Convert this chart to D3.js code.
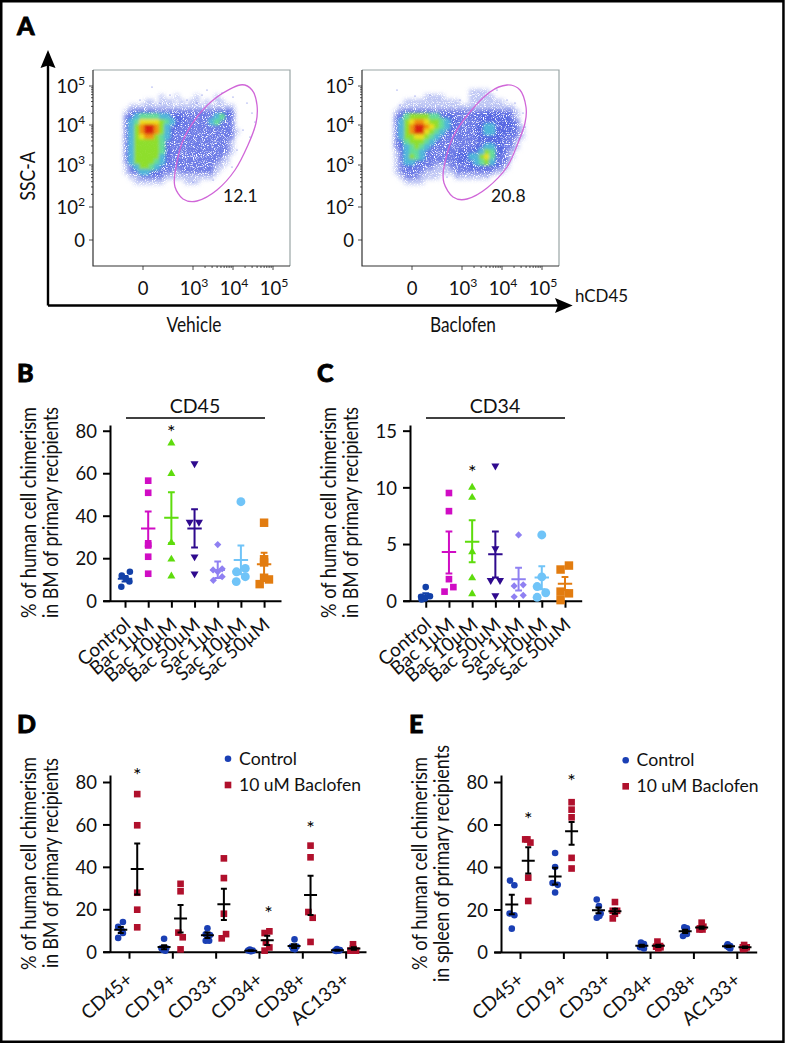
<!DOCTYPE html>
<html><head><meta charset="utf-8">
<script src="https://cdn.jsdelivr.net/npm/d3@7"></script>
<style>html,body{margin:0;padding:0;background:#fff}svg{display:block}text{font-family:Lato,"Open Sans",sans-serif;fill:#111}</style>
</head><body><svg id="c" width="785" height="1044"></svg>
<script>
// ---------- Panel A data ----------
const flowTickLabels=[["0",""],["10","3"],["10","4"],["10","5"]];
const flowXChannels=[50,100,140,180];
const flowYTickLabels=[["0",""],["10","2"],["10","3"],["10","4"],["10","5"]];
const flowYChannels=[26,59,101,141,180];
const flowPlots=["Vehicle","Baclofen"];
const gateVehicle=[[147,181],[159,176],[164,161],[163,143],[155,121],[142,96],[124,76],[104,65],[90,67],[82,79],[82,93],[89,123],[104,149],[124,169]];
const gateBaclofen=[[145,181],[158,176],[164,159],[163,143],[156,123],[145,99],[125,78],[105,67],[91,69],[82,83],[82,99],[91,129],[108,154],[128,174]];
const gatePercent=["12.1","20.8"];
// density level per 5px cell, 0 = no events, 9 = densest
const densityVehicle=[
"00000001001000100010000",
"00001101110101101011000",
"01111111111111111111110",
"12333322222222222233330",
"23455554433322222245320",
"24577776543322222453220",
"24689986433222222222220",
"24689986432222222222221",
"24678865432222222222220",
"24666665322222222222210",
"24666665322222222222210",
"24666665322222222222210",
"24666664322222222222100",
"24666654322222222221100",
"13466543222222222211000",
"12344332221222222210000",
"01122222111111111100000",
"00111111000011100000000"];
const densityBaclofen=[
"00000000000000011110000000",
"00000011110000011111000000",
"00111111111110011111110000",
"01111111111111111111111100",
"12333333222222222233322210",
"23566665533322223333333210",
"24678876654332222333333320",
"24689987654322223344333321",
"24689976543322223344333321",
"24667765432222223333332221",
"23566654322222222333332210",
"23456543222222223344332210",
"13455432222223333465332100",
"13465432222233344675322100",
"12443322222223334564322000",
"12332222111222233333321000",
"12222211111122222222110000",
"01222111100011111110000000",
"00111100000000000000000000"];
const outliersVehicle=[[59,179],[77,171],[114,176],[129,173],[109,171],[154,163],[159,153],[162,144],[150,136],[157,129],[144,116],[139,99],[120,86],[100,84],[47,166],[67,163],[94,166],[140,169],[104,163]];
const outliersBaclofen=[[35,176],[68,171],[53,170],[145,166],[153,163],[161,153],[163,139],[151,116],[143,106],[125,89],[95,89],[85,89],[38,161],[98,166],[135,176]];
const densityColors=["#ffffff","#bcc4f4","#6a78e6","#5064e2","#4fb6da","#62dc9a","#8ede2c","#ecdf1c","#f2920e","#d9200e"];

// ---------- Panels B and C data ----------
const treatments=["Control","Bac 1µM","Bac 10µM","Bac 50µM","Sac 1µM","Sac 10µM","Sac 50µM"];
const treatmentColors=["#1240a8","#d00cc4","#5edc0c","#2f0a8e","#8f80f2","#70c4f8","#e27c10"];
const treatmentShapes=["circle","square","triangle","triangleDown","diamond","bigCircle","bigSquare"];
const cd45Values=[[11.8,13.6,10.5,9,6.6],[56.5,50.8,27,26,20.7,12.7],[74.2,59.8,27.3,19.5,11.5],[64.5,37,37,20.7,12.7],[26.4,14.5,15,13.6,11.3,9.6],[46.6,15.2,13.6,11.3,9],[36.7,19.5,18,10,10.8,7.8]];
const cd45Jitter=[[-.14,.21,.03,.19,-.16],[0,0,0,0,0,0],[0,0,0,0,0],[0,-.21,.19,0,0],[0,-.2,.19,0,.19,-.19],[0,.19,-.19,.19,-.2],[0,0,0,.21,0,-.19]];
const cd45Mean=[10.3,34,39,34,14.4,19.2,17.2];
const cd45Low=[9,25.5,27,25,10.7,12.5,11.4];
const cd45High=[11.6,42,51.1,43,18.4,26,22.6];
const cd34Values=[[1.2,.4,.35,.2,.1],[9.5,7.9,1.9,1.2,.8],[10,9.1,4.3,2,.6],[11.9,4.6,1.8,1.8,.45],[5.8,1.3,1.4,.35,.47],[5.8,2.1,1.25,.7,.3],[3.1,2.75,.65,.8,.05]];
const cd34Jitter=[[0,.18,-.2,-.03,-.18],[0,0,0,.19,-.19],[0,0,0,0,0],[0,0,-.2,.2,0],[0,-.19,.2,-.19,.2],[0,0,-.2,.17,-.2],[.17,-.19,.17,-.19,-.19]];
const cd34Mean=[.45,4.3,5.2,4.1,1.9,2.05,1.5];
const cd34Low=[.25,2.4,3.4,2.05,.9,1,.95];
const cd34High=[.65,6.1,7.1,6.1,2.9,3.05,2.1];

// ---------- Panels D and E data ----------
const markers=["CD45+","CD19+","CD33+","CD34+","CD38+","AC133+"];
const groupNames=["Control","10 uM Baclofen"];
const groupColors=["#1a3fb4","#b0102c"];
const bmControl=[[14,11.7,10,6.5,8.8],[6.1,1.6,1.6,.8,.5],[11,8.2,7.9,5.2,5.2],[1,.6,.5,.3,.2],[5.8,2.4,2.4,1.4,1.1],[1.3,.8,.6,.5,.3]];
const bmControlJitter=[[.05,-.06,.02,-.06,.05],[0,-.06,.05,-.02,.03],[0,-.04,.06,-.04,.04],[-.02,-.06,.05,-.01,.01],[.01,-.05,.06,-.02,.02],[-.01,.06,-.05,.03,-.03]];
const bmControlMean=[10.3,2.2,7.7,.5,2.7,.7];
const bmControlLow=[8.8,1.2,6.4,.3,1.8,.5];
const bmControlHigh=[11.7,3,9,.7,3.5,.9];
const bmBaclofen=[[74.3,59.6,27.8,19.8,11.5],[32,28.5,9,6.8,1.1],[44,34.7,17.9,8.3,6.3],[9.6,8.8,4.4,2,.5],[50,44.5,18.7,16,4.6],[3.5,1.6,.5,.5,.8]];
const bmBaclofenJitter=[[0,0,0,0,0],[0,0,-.05,.05,0],[0,0,0,.05,-.05],[.05,-.06,-.03,.05,-.06],[0,0,-.05,.05,0],[-.02,-.02,-.08,.05,-.02]];
const bmBaclofenMean=[39,15.6,22.4,5.4,26.7,1.5];
const bmBaclofenLow=[27,9,15,3.1,17.3,.9];
const bmBaclofenHigh=[51,22,29.7,7.5,35.8,2.1];
const spleenControl=[[33.6,31.4,18.1,17.3,11],[46.6,40,32.5,31.6,28],[24.7,21.6,18.1,16.1,17],[4.4,3.8,2.5,2.2,1.7],[11.6,11.1,9.5,8.5,7.5],[3.6,2.8,2.2,2.8,1.7]];
const spleenControlJitter=[[-.04,.06,-.05,.06,0],[0,0,-.06,.06,0],[-.04,.01,.05,-.04,.02],[-.02,.05,0,-.04,.05],[-.02,.04,0,.04,-.05],[-.02,.04,0,-.04,.04]];
const spleenControlMean=[22.3,35.5,19.6,3,9.8,2.7];
const spleenControlLow=[17.8,31.8,18.2,2.5,9,2.3];
const spleenControlHigh=[26.9,39.6,21,3.4,10.5,3.1];
const spleenBaclofen=[[53,53,51.5,35,24],[70.5,67,63.4,44.3,39.3],[23.5,19.4,19.4,18,15.8],[4.9,2.8,2.5,1.7,2.2],[13.8,11.9,11.1,10.6,10.6],[3.3,2.2,2.2,1.7,1.4]];
const spleenBaclofenJitter=[[-.07,-.02,.05,0,0],[0,0,0,0,0],[0,.05,-.05,0,-.05],[-.02,.04,-.05,0,.05],[0,.04,-.04,.02,-.05],[-.02,.04,-.05,0,-.04]];
const spleenBaclofenMean=[43,56.8,19.2,2.9,11.5,2.2];
const spleenBaclofenLow=[37,50.5,18,2.4,11,1.9];
const spleenBaclofenHigh=[49.3,61.2,20.3,3.4,12,2.6];

// ---------- Drawing ----------
const svg=d3.select("#c");
const defs=svg.append("defs");
const soft=defs.append("filter").attr("id","soft").attr("x","-10%").attr("y","-10%").attr("width","120%").attr("height","120%");
soft.append("feGaussianBlur").attr("stdDeviation",1.7);
const grain=defs.append("filter").attr("id","grain").attr("x","-10%").attr("y","-10%").attr("width","120%").attr("height","120%");
grain.append("feGaussianBlur").attr("in","SourceGraphic").attr("stdDeviation",1.9).attr("result","b");
grain.append("feTurbulence").attr("type","fractalNoise").attr("baseFrequency",1.1).attr("numOctaves",1).attr("seed",4).attr("result","n");
grain.append("feColorMatrix").attr("in","n").attr("type","matrix").attr("values","0 0 0 0 0 0 0 0 0 0 0 0 0 0 0 5.5 0 0 0 -1.6").attr("result","m");
grain.append("feComposite").attr("in","b").attr("in2","m").attr("operator","in");

svg.append("rect").attr("x",1.25).attr("y",1.25).attr("width",782.2).attr("height",1040.5).attr("fill","#fff").attr("stroke","#000").attr("stroke-width",2.5);

function panelLetter(t,x,y){svg.append("text").attr("x",x).attr("y",y).text(t).attr("font-size",25).attr("font-weight",900).style("fill","#000").attr("stroke","#000").attr("stroke-width",.8);}
panelLetter("A",17,35);panelLetter("B",17,382);panelLetter("C",317,382);panelLetter("D",17,733);panelLetter("E",409,733);

// arrows
svg.append("path").attr("d","M48,305.5V60M48,305.5H562").attr("fill","none").attr("stroke","#000").attr("stroke-width",2.4);
svg.append("path").attr("d","M48,50L55.5,68L48,65.5L40.5,68Z").attr("fill","#000");
svg.append("path").attr("d","M572.7,305.5L555,298L558,305.5L555,313Z").attr("fill","#000");
svg.append("text").attr("transform","translate(35,176) rotate(-90)").attr("text-anchor","middle").attr("textLength",49).attr("lengthAdjust","spacingAndGlyphs").attr("font-size",21).text("SSC-A");
svg.append("text").attr("x",575).attr("y",301.7).attr("textLength",53).attr("lengthAdjust","spacingAndGlyphs").attr("font-size",17.5).text("hCD45");

function power(sel,pair,size){sel.selectAll("tspan").data(pair).join("tspan").text(d=>d).attr("font-size",(d,i)=>i?size*.66:size).attr("dy",(d,i)=>i?-size*.42:0);}

function flowPlot(left,name,density,origin,gate,outliers,pct,pctX,centerX,nameWidth){
  const top=70, size=196, w=197;
  const cx=d3.scaleLinear().domain([0,w]).range([left,left+w]);
  const cy=d3.scaleLinear().domain([0,size]).range([top+size,top]);
  const g=svg.append("g");
  const cells=[];
  density.forEach((row,j)=>row.split("").forEach((c,i)=>{if(+c>0)cells.push({i,j,v:+c});}));
  const cellX=d=>cx(origin[0]+d.i*5)-2.5, cellY=d=>cy(origin[1]-d.j*5)-2.5;
  const drawCells=(layer,list)=>layer.selectAll("rect").data(list).join("rect").attr("x",cellX).attr("y",cellY).attr("width",5.2).attr("height",5.2).attr("fill",d=>densityColors[d.v]);
  drawCells(g.append("g").attr("filter","url(#grain)"),cells);
  drawCells(g.append("g").attr("filter","url(#soft)"),cells.filter(d=>d.v>=4));
  g.append("g").selectAll("circle").data(outliers).join("circle").attr("cx",d=>cx(d[0])).attr("cy",d=>cy(d[1])).attr("r",.6).attr("fill","#5a68e2");
  // frame
  svg.append("path").attr("d",`M${left},${top}H${left+w}V${top+size}`).attr("fill","none").attr("stroke","#9aa6a6").attr("stroke-width",1.2);
  svg.append("path").attr("d",`M${left},${top}V${top+size}H${left+w}`).attr("fill","none").attr("stroke","#333").attr("stroke-width",1.2);
  // ticks
  const xs=d3.scaleLinear().domain([0,3,4,5]).range(flowXChannels);
  const ys=d3.scaleLinear().domain([0,2,3,4,5]).range(flowYChannels);
  const minor=d3.range(3,5).flatMap(d=>d3.range(2,10).map(m=>d+Math.log10(m)));
  const minorY=d3.range(2,5).flatMap(d=>d3.range(2,10).map(m=>d+Math.log10(m)));
  const tk=svg.append("g").attr("stroke","#222").attr("stroke-width",.8);
  minor.forEach(d=>tk.append("line").attr("x1",cx(xs(d))).attr("x2",cx(xs(d))).attr("y1",top+size).attr("y2",top+size+2));
  minorY.forEach(d=>tk.append("line").attr("y1",cy(ys(d))).attr("y2",cy(ys(d))).attr("x1",left).attr("x2",left-2));
  flowXChannels.forEach(d=>tk.append("line").attr("x1",cx(d)).attr("x2",cx(d)).attr("y1",top+size).attr("y2",top+size+4));
  flowYChannels.forEach(d=>tk.append("line").attr("y1",cy(d)).attr("y2",cy(d)).attr("x1",left).attr("x2",left-4));
  flowXChannels.forEach((d,i)=>{const t=svg.append("text").attr("x",cx(d)+(i?1:0)).attr("y",295).attr("text-anchor","middle");power(t,flowTickLabels[i],18.5);});
  flowYChannels.forEach((d,i)=>{const t=svg.append("text").attr("x",left-8).attr("y",cy(d)+(i?6.5:7)).attr("text-anchor","end");power(t,flowYTickLabels[i],18.5);});
  // gate
  svg.append("path").attr("d",d3.line().x(d=>cx(d[0])).y(d=>cy(d[1])).curve(d3.curveCardinalClosed.tension(.1))(gate)).attr("fill","none").attr("stroke","#d066d8").attr("stroke-width",1.3);
  svg.append("text").attr("x",pctX).attr("y",202).attr("font-size",17.5).text(pct);
  svg.append("text").attr("x",centerX).attr("y",332).attr("text-anchor","middle").attr("textLength",nameWidth).attr("lengthAdjust","spacingAndGlyphs").attr("font-size",22).text(name);
}
flowPlot(93,flowPlots[0],densityVehicle,[33.67,169.3],gateVehicle,outliersVehicle,gatePercent[0],223,194,55);
flowPlot(362,flowPlots[1],densityBaclofen,[34.67,174.3],gateBaclofen,outliersBaclofen,gatePercent[1],491,463,66);

const symbols={circle:[d3.symbolCircle,34,0],square:[d3.symbolSquare,44,0],triangle:[d3.symbolTriangle,28,0],triangleDown:[d3.symbolTriangle,28,180],diamond:[d3.symbolSquare,26,45],bigCircle:[d3.symbolCircle,62,0],bigSquare:[d3.symbolSquare,72,0]};
function mark(g,shape,x,y,color){const s=symbols[shape];g.append("path").attr("d",d3.symbol().type(s[0]).size(s[1])()).attr("transform",`translate(${x},${y}) rotate(${s[2]})`).attr("fill",color);}
function errorBar(g,x,y,mean,lo,hi,color,halfW,capW,sw){
  g.append("path").attr("d",`M${x},${y(lo)}V${y(hi)}M${x-capW},${y(lo)}H${x+capW}M${x-capW},${y(hi)}H${x+capW}M${x-halfW},${y(mean)}H${x+halfW}`).attr("fill","none").attr("stroke",color).attr("stroke-width",sw);
}
function axes(cfg){
  const x=d3.scaleLinear().domain(cfg.xDomain).range(cfg.xRange);
  const y=d3.scaleLinear().domain(cfg.yDomain).range(cfg.yRange);
  const ax=svg.append("g").attr("transform",`translate(0,${cfg.yRange[0]})`).call(d3.axisBottom(x).tickValues(d3.range(cfg.labels.length)).tickSize(7).tickSizeOuter(0).tickFormat(""));
  const ay=svg.append("g").attr("transform",`translate(${cfg.axisX},0)`).call(d3.axisLeft(y).tickValues(cfg.yTicks).tickSize(7).tickSizeOuter(0).tickPadding(6));
  [ax,ay].forEach(a=>{a.selectAll("path,line").attr("stroke","#000").attr("stroke-width",2);});
  ay.selectAll("text").attr("font-size",18.5).attr("font-family","Lato").style("fill","#111").attr("dy","0.36em");
  svg.append("g").selectAll("text").data(cfg.labels).join("text").text(d=>d)
    .attr("transform",(d,i)=>`translate(${x(i)+cfg.labelDx},${cfg.yRange[0]+cfg.labelDy}) rotate(${cfg.labelAngle})`)
    .attr("text-anchor","end").attr("font-size",cfg.labelSize);
  cfg.titles.forEach(t=>svg.append("text").attr("transform",`translate(${t[1]},${t[2]}) rotate(-90)`).attr("text-anchor","middle").attr("textLength",t[3]).attr("lengthAdjust","spacingAndGlyphs").attr("font-size",22).text(t[0]));
  return {x,y};
}
function stars(s,x,y,list){list.forEach(d=>svg.append("text").attr("x",x(d[0])).attr("y",y(d[1])+10).attr("text-anchor","middle").attr("font-size",20).style("fill","#000").text("*"));}

function treatmentPanel(cfg,vals,jit,mean,lo,hi,title,lineX,titleX,starList){
  const {x,y}=axes(cfg);
  const g=svg.append("g");
  vals.forEach((v,i)=>v.forEach((d,k)=>mark(g,treatmentShapes[i],x(i+jit[i][k]),y(d),treatmentColors[i])));
  mean.forEach((m,i)=>errorBar(g,x(i),y,m,lo[i],hi[i],treatmentColors[i],7.2,3.4,2));
  svg.append("line").attr("x1",lineX[0]).attr("x2",lineX[1]).attr("y1",418).attr("y2",418).attr("stroke","#000").attr("stroke-width",1.7);
  svg.append("text").attr("x",titleX).attr("y",413).attr("text-anchor","middle").attr("font-size",19.5).text(title);
  stars(svg,x,y,starList);
}
const treatCfg={labels:treatments,labelDx:7,labelDy:26,labelAngle:-40,labelSize:19};
treatmentPanel({...treatCfg,xDomain:[-.95,6.73],xRange:[103,281],yDomain:[0,82.7],yRange:[600.7,425],axisX:110,yTicks:[0,20,40,60,80],
  titles:[["% of human cell chimerism",36,512.5,211],["in BM of primary recipients",58,512.5,211]]},
  cd45Values,cd45Jitter,cd45Mean,cd45Low,cd45High,"CD45",[126,265],195,[[2,80.8]]);
treatmentPanel({...treatCfg,xDomain:[-.98,6.72],xRange:[403,581.7],yDomain:[0,15.5],yRange:[600.7,425],axisX:410,yTicks:[0,5,10,15],
  titles:[["% of human cell chimerism",336,512.5,211],["in BM of primary recipients",358,512.5,211]]},
  cd34Values,cd34Jitter,cd34Mean,cd34Low,cd34High,"CD34",[426,565],495,[[2,11.6]]);

const groupOffset=.19;
function markerPanel(cfg,ctrl,ctrlJ,ctrlM,ctrlL,ctrlH,bac,bacJ,bacM,bacL,bacH,starList,legendX,legendTextX,legendY){
  const {x,y}=axes(cfg);
  const g=svg.append("g");
  ctrl.forEach((v,i)=>v.forEach((d,k)=>mark(g,"circle",x(i-groupOffset+ctrlJ[i][k]),y(d),groupColors[0])));
  bac.forEach((v,i)=>v.forEach((d,k)=>mark(g,"square",x(i+groupOffset+bacJ[i][k]),y(d),groupColors[1])));
  ctrlM.forEach((m,i)=>errorBar(g,x(i-groupOffset),y,m,ctrlL[i],ctrlH[i],"#000",6.5,3,2));
  bacM.forEach((m,i)=>errorBar(g,x(i+groupOffset),y,m,bacL[i],bacH[i],"#000",6.5,3,2));
  stars(svg,x,y,starList);
  const lg=svg.append("g");
  mark(lg,"circle",legendX,legendY[0],groupColors[0]);
  mark(lg,"square",legendX,legendY[1],groupColors[1]);
  lg.append("text").attr("x",legendTextX).attr("y",legendY[0]+5.8).attr("font-size",18).attr("textLength",58).attr("lengthAdjust","spacingAndGlyphs").text(groupNames[0]);
  lg.append("text").attr("x",legendTextX).attr("y",legendY[1]+5.8).attr("font-size",18).attr("textLength",122).attr("lengthAdjust","spacingAndGlyphs").text(groupNames[1]);
}
const markCfg={labels:markers,labelDx:5,labelDy:30,labelAngle:-40,labelSize:19,yTicks:[0,20,40,60,80]};
markerPanel({...markCfg,xDomain:[-.6,5.47],xRange:[103,366],yDomain:[0,83.3],yRange:[951.7,775],axisX:110,
  titles:[["% of human cell chimerism",36,863.5,213],["in BM of primary recipients",58,863,210]]},
  bmControl,bmControlJitter,bmControlMean,bmControlLow,bmControlHigh,bmBaclofen,bmBaclofenJitter,bmBaclofenMean,bmBaclofenLow,bmBaclofenHigh,
  [[.19,84.8],[3.22,19.7],[4.19,59.8]],228,239,[758.7,785]);
markerPanel({...markCfg,xDomain:[-.6,5.46],xRange:[494,756.7],yDomain:[0,83.3],yRange:[952,775],axisX:501,
  titles:[["% of human cell chimerism",427,863.5,213],["in spleen of primary recipients",449,863.5,237]]},
  spleenControl,spleenControlJitter,spleenControlMean,spleenControlLow,spleenControlHigh,spleenBaclofen,spleenBaclofenJitter,spleenBaclofenMean,spleenBaclofenLow,spleenBaclofenHigh,
  [[.19,64],[1.19,81.9]],625.7,636.5,[760.3,786.3]);
</script></body></html>
